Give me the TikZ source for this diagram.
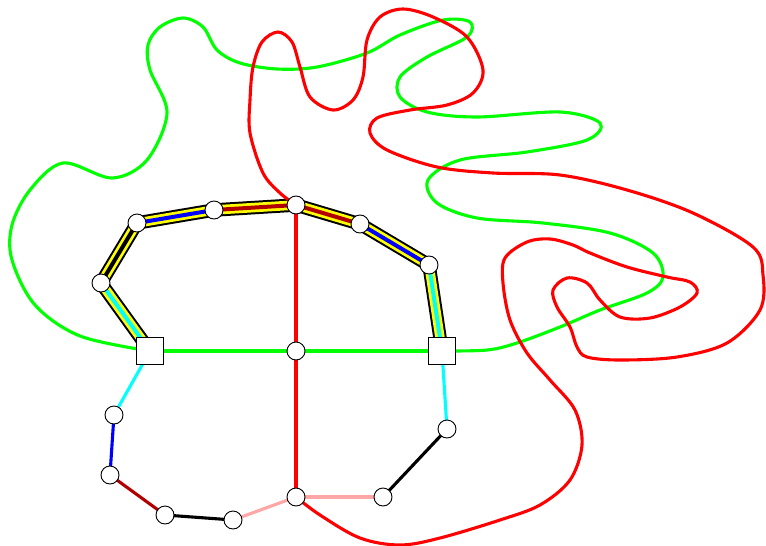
\documentclass[tikz,border=0pt]{standalone}
\usetikzlibrary{backgrounds}
\definecolor{dred}{rgb}{0.7,0,0}
\definecolor{pink}{rgb}{1,0.65,0.65}
\definecolor{cy}{rgb}{0,1,1}
\definecolor{gr}{rgb}{0,1,0}
\definecolor{rd}{rgb}{1,0,0}
\definecolor{bl}{rgb}{0,0,1}
\definecolor{yl}{rgb}{1,1,0}
\begin{document}
\begin{tikzpicture}[x=1pt,y=-1pt,
  ln/.style={line width=3.1pt},
  band/.style={line width=13.5pt, draw=black,
    postaction={draw=yl, line width=9.5pt, postaction={draw=#1, line width=4pt}}},
  cnode/.style={circle, draw=black, fill=white, line width=0.9pt, minimum size=18pt, inner sep=0pt},
  snode/.style={rectangle, draw=black, fill=white, line width=0.9pt, minimum size=27pt, inner sep=0pt}]
\useasboundingbox (0,0) rectangle (766,546);
\node[snode] (A) at (150,351) {};
\node[snode] (B) at (442,351) {};
\node[cnode] (C) at (296,351) {};
\node[cnode] (n1) at (101,283) {};
\node[cnode] (n2) at (137,223) {};
\node[cnode] (n3) at (214,210) {};
\node[cnode] (n4) at (296,205) {};
\node[cnode] (n5) at (360,224) {};
\node[cnode] (n6) at (429,265) {};
\node[cnode] (m1) at (114,415) {};
\node[cnode] (m2) at (110,475) {};
\node[cnode] (m3) at (165,515) {};
\node[cnode] (m4) at (233,520) {};
\node[cnode] (D) at (296,497) {};
\node[cnode] (m5) at (383,497) {};
\node[cnode] (m6) at (447,429) {};
\begin{scope}[on background layer]
\draw[band=cy] (A.center) -- (n1.center);
\draw[band=black] (n1.center) -- (n2.center);
\draw[band=bl] (n2.center) -- (n3.center);
\draw[band=dred] (n3.center) -- (n4.center);
\draw[band=dred] (n4.center) -- (n5.center);
\draw[band=bl] (n5.center) -- (n6.center);
\draw[band=cy] (n6.center) -- (B.center);
\draw[ln, gr] (A.center) -- (C.center) -- (B.center);
\draw[ln, rd] (n4.center) -- (C.center) -- (D.center);
\draw[ln, cy] (A.center) -- (m1.center);
\draw[ln, cy] (B.center) -- (m6.center);
\draw[ln, bl] (m1.center) -- (m2.center);
\draw[ln, dred] (m2.center) -- (m3.center);
\draw[ln, black] (m3.center) -- (m4.center);
\draw[ln, pink] (m4.center) -- (D.center);
\draw[ln, pink] (D.center) -- (m5.center);
\draw[ln, black] (m5.center) -- (m6.center);
\draw[ln, gr] plot[smooth, tension=0.55] coordinates {(A.center) (80,336) (35,305) (12,260) (12,225) (30,190) (63,163) (112,178) (147,160) (167,113) (150,70) (148,45) (160,27) (183,18) (203,27) (217,50) (240,63) (277,69) (317,67) (367,53) (400,35) (443,20) (470,22) (467,37) (427,57) (400,77) (400,97) (427,112) (477,117) (560,112) (600,123) (587,140) (527,152) (460,160) (428,180) (437,203) (477,218) (543,223) (610,233) (653,253) (663,277) (647,293) (600,310) (560,327) (517,343) (487,350) (B.center)};
\draw[ln, rd] plot[smooth, tension=0.55] coordinates {(n4.center) (280,193) (263,173) (250,133) (250,100) (253,67) (262,42) (278,32) (292,42) (300,67) (310,97) (333,110) (353,100) (363,77) (367,40) (380,17) (403,9) (433,17) (467,37) (483,70) (473,93) (447,105) (410,110) (377,118) (370,133) (387,150) (437,167) (493,173) (560,175) (627,190) (693,213) (753,247) (763,275) (760,310) (727,343) (677,357) (620,360) (587,357) (577,347) (570,327) (557,307) (553,290) (567,278) (587,283) (600,300) (620,317) (650,318) (680,307) (697,293) (690,282) (667,277) (627,267) (590,253) (573,245) (550,239) (527,242) (505,258) (503,283) (510,320) (527,353) (550,380) (575,410) (582,445) (570,480) (540,505) (500,520) (440,538) (400,545) (360,538) (320,515) (D.center)};
\end{scope}
\end{tikzpicture}
\end{document}
